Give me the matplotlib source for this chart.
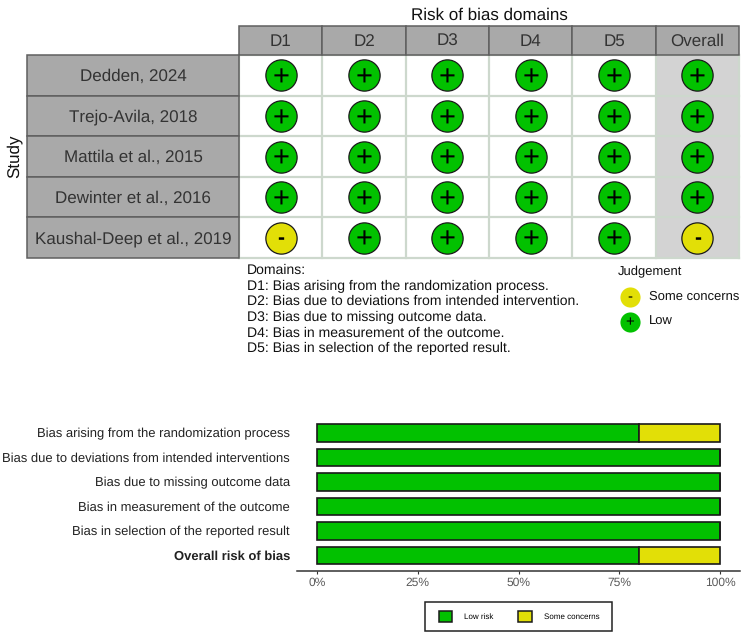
import matplotlib
matplotlib.use("Agg")
import matplotlib.pyplot as plt
from matplotlib.patches import Rectangle, Patch

plt.rcParams["font.family"] = ["Liberation Sans", "DejaVu Sans"]
plt.rcParams["text.hinting"] = "no_hinting"
plt.rcParams["text.hinting_factor"] = 1

W, H = 750, 640

# Traffic-light data
studies = ["Dedden, 2024", "Trejo-Avila, 2018", "Mattila et al., 2015",
           "Dewinter et al., 2016", "Kaushal-Deep et al., 2019"]
domains = ["D1", "D2", "D3", "D4", "D5", "Overall"]
judgements = [
    ["+", "+", "+", "+", "+", "+"],
    ["+", "+", "+", "+", "+", "+"],
    ["+", "+", "+", "+", "+", "+"],
    ["+", "+", "+", "+", "+", "+"],
    ["-", "+", "+", "+", "+", "-"],
]
domain_notes = ["Domains:",
                "D1: Bias arising from the randomization process.",
                "D2: Bias due to deviations from intended intervention.",
                "D3: Bias due to missing outcome data.",
                "D4: Bias in measurement of the outcome.",
                "D5: Bias in selection of the reported result."]

# Summary bar data
summary_labels = ["Bias arising from the randomization process",
                  "Bias due to deviations from intended interventions",
                  "Bias due to missing outcome data",
                  "Bias in measurement of the outcome",
                  "Bias in selection of the reported result",
                  "Overall risk of bias"]
low_risk = [80, 100, 100, 100, 100, 80]
some_concerns = [20, 0, 0, 0, 0, 20]
pct_ticks = [0, 25, 50, 75, 100]

GREEN = "#02C100"
YELLOW = "#E2DF07"
STRIP = "#A9A9A9"
EDGE = "#5F5F5F"
GRID = "#CDD8CD"
INK = "#333333"


def box(x0, y0, x1, y1):
    """Axes rectangle given by pixel edges measured from the top-left corner."""
    return [x0 / W, 1 - y1 / H, (x1 - x0) / W, (y1 - y0) / H]


def fx(x):
    return x / W


def fy(y):
    return 1 - y / H


fig = plt.figure(figsize=(W / 100, H / 100), dpi=100, facecolor="white")

# Traffic-light grid
ax = fig.add_axes(box(239, 55, 739, 258))
ax.set_xlim(0, len(domains))
ax.set_ylim(len(studies), 0)
ax.axis("off")
ax.add_patch(Rectangle((5, 0), 1, len(studies), fc="#D3D3D3", ec="none", zorder=0))
for i in range(len(domains) + 1):
    ax.plot([i, i], [0, len(studies)], color=GRID, lw=1.6, clip_on=False, zorder=1)
for j in range(len(studies) + 1):
    ax.plot([0, len(domains)], [j, j], color=GRID, lw=1.6, clip_on=False, zorder=1)

for r, row in enumerate(judgements):
    for c, mark in enumerate(row):
        colour = GREEN if mark == "+" else YELLOW
        ax.plot(c + 0.5, r + 0.5, "o", ms=22.5, mfc=colour, mec="#1A1A1A", mew=0.9, zorder=2)
        ax.text(c + 0.5, r + 0.5 + (0.07 if mark == "+" else 0.02), mark,
                ha="center", va="center",
                fontsize=21 if mark == "+" else 15, color="black",
                fontweight="bold" if mark == "-" else "normal", zorder=3)

# Column headers
hdr = fig.add_axes(box(239, 26, 739, 54.5))
hdr.set_xlim(0, len(domains))
hdr.set_ylim(0, 1)
hdr.axis("off")
for i, name in enumerate(domains):
    hdr.add_patch(Rectangle((i, 0), 1, 1, fc=STRIP, ec=EDGE, lw=1.1, clip_on=False))
    hdr.text(i + 0.5, 0.46, name, ha="center", va="center", fontsize=12.2, color=INK)

# Row headers
side = fig.add_axes(box(27, 55, 239, 258))
side.set_xlim(0, 1)
side.set_ylim(len(studies), 0)
side.axis("off")
for j, name in enumerate(studies):
    side.add_patch(Rectangle((0, j), 1, 1, fc=STRIP, ec=EDGE, lw=1.1, clip_on=False))
    side.text(0.5, j + 0.53, name, ha="center", va="center", fontsize=12.2, color=INK)

fig.text(fx(489.5), fy(15.5), "Risk of bias domains", ha="center", va="center",
         fontsize=12.6, color="#111111")
fig.text(fx(14), fy(156), "Study", rotation=90, ha="center", va="center",
         fontsize=12.6, color="#111111")

# Domain key
for y, note in zip([270, 286, 301, 317, 333, 348], domain_notes):
    fig.text(fx(247), fy(y), note, ha="left", va="center", fontsize=10.1, color="#111111")

# Judgement key
fig.text(fx(618), fy(272), "Judgement", ha="left", va="center", fontsize=9.4, color="#111111")
key = fig.add_axes([0, 0, 1, 1], facecolor="none")
key.set_xlim(0, W)
key.set_ylim(H, 0)
key.axis("off")
for y, mark, colour, label in [(297, "-", YELLOW, "Some concerns"), (322, "+", GREEN, "Low")]:
    key.plot(630, y, "o", ms=14.5, mfc=colour, mec="none")
    key.text(630, y + 0.8, mark, ha="center", va="center", fontsize=11, color="black")
    key.text(649, y, label, ha="left", va="center", fontsize=9.4, color="#111111")

# Summary bars
bar = fig.add_axes(box(297, 418, 740, 570.7))
bar.set_xlim((297 - 317) / 403 * 100, (740 - 317) / 403 * 100)
bar.set_ylim(5.62, -0.612)
ypos = list(range(len(summary_labels)))
bar.barh(ypos, low_risk, height=0.71, color=GREEN, edgecolor="#1A1A1A", lw=1.2)
bar.barh(ypos, some_concerns, left=low_risk, height=0.71, color=YELLOW,
         edgecolor="#1A1A1A", lw=1.2)
for side_name in ["top", "right", "left"]:
    bar.spines[side_name].set_visible(False)
bar.spines["bottom"].set_linewidth(1.1)
bar.spines["bottom"].set_color("#333333")
bar.set_yticks(ypos)
bar.set_yticklabels(summary_labels, fontsize=9.2, color="#222222")
bar.get_yticklabels()[-1].set_fontweight("bold")
bar.tick_params(axis="y", length=0, pad=5)
bar.set_xticks(pct_ticks)
bar.set_xticklabels([f"{t}%" for t in pct_ticks], fontsize=8.4, color="#5A5A5A")
bar.tick_params(axis="x", length=2.5, width=0.8, color="#333333", pad=2)

# Summary legend entries sit inside a separately drawn frame
fig.add_artist(Rectangle((fx(425), fy(631)), 187 / W, 29 / H, transform=fig.transFigure,
                         fc="white", ec="#222222", lw=1.1))
handles = [Patch(fc=GREEN, ec="#1A1A1A", lw=1.1, label="Low risk"),
           Patch(fc=YELLOW, ec="#1A1A1A", lw=1.1, label="Some concerns")]
fig.legend(handles=handles, ncol=2, loc="center",
           bbox_to_anchor=(fx(519), fy(616.5)), fontsize=5.6, frameon=False,
           handlelength=1.7, handleheight=1.7, handletextpad=1.54,
           columnspacing=3.2, borderpad=0, borderaxespad=0)

fig.savefig("out.png", dpi=100)
